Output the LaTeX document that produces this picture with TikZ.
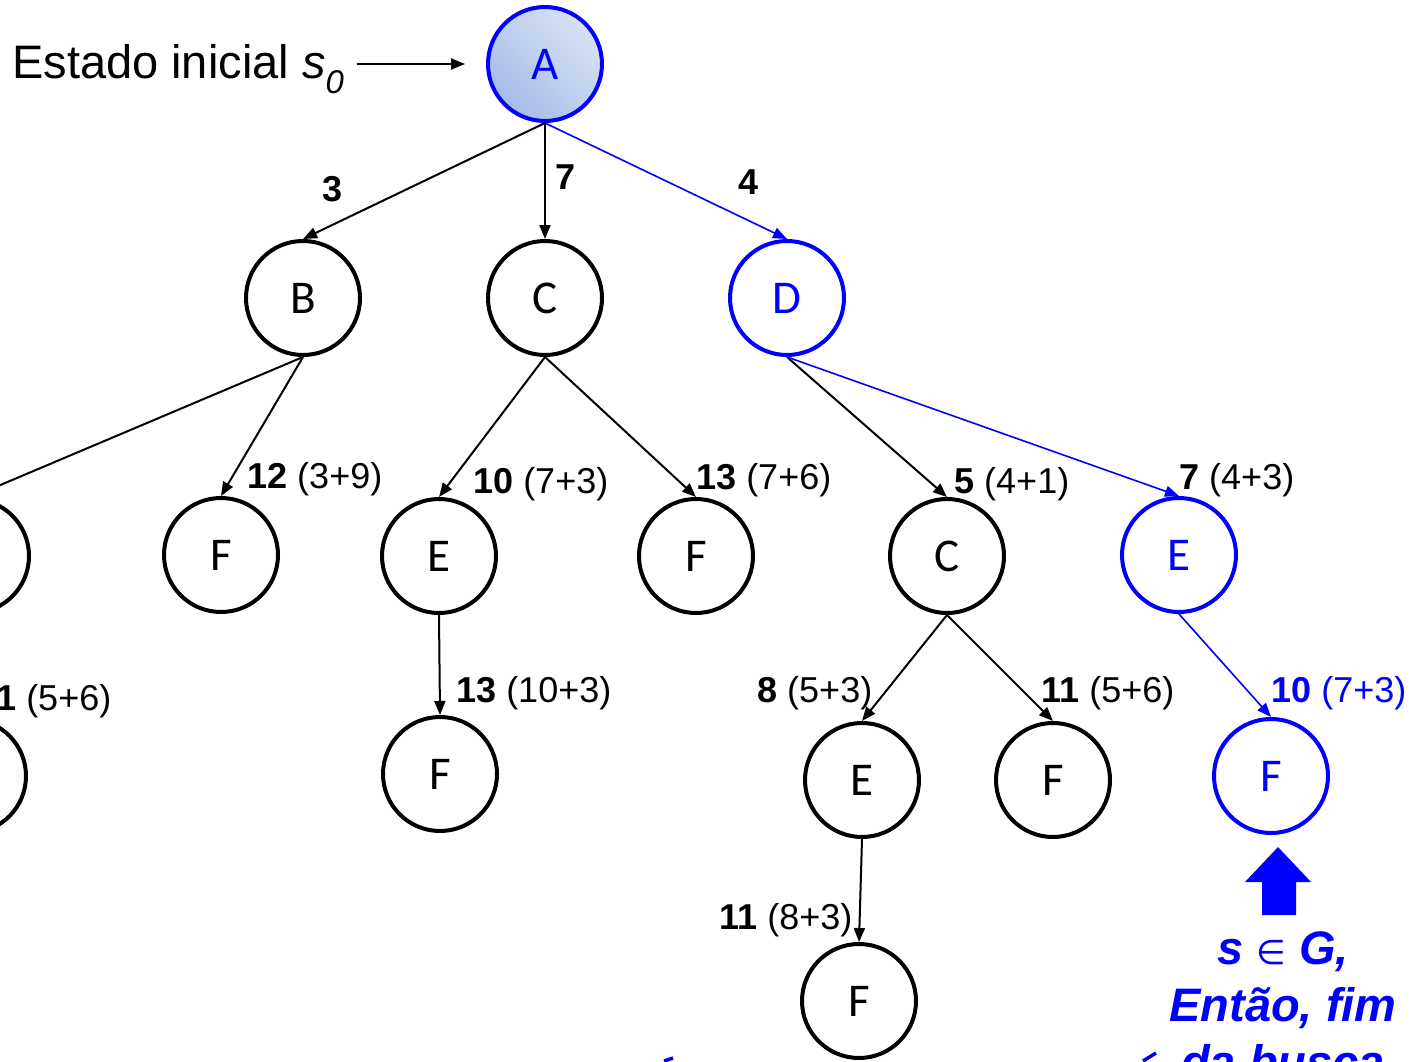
\documentclass[tikz,border=0pt]{standalone}
\usepackage{fontspec}
\setmainfont{Liberation Sans}
\newfontfamily\nodefont{Carlito}
\newfontfamily\symfont{DejaVu Sans}
\usetikzlibrary{arrows.meta}
\definecolor{pureblue}{RGB}{0,0,255}
\definecolor{lightA}{RGB}{216,226,244}
\definecolor{darkA}{RGB}{166,188,232}
\begin{document}
\begin{tikzpicture}[x=1pt,y=-1pt,
  every node/.style={inner sep=0pt},
  state/.style={circle, draw=black, line width=4pt, minimum size=114pt,
    font=\nodefont\fontsize{47}{47}\selectfont},
  goal/.style={state, draw=pureblue, text=pureblue},
  edge/.style={line width=2pt, -{Triangle[length=14pt,width=11pt]}},
  bluedge/.style={edge, draw=pureblue, line width=1.6pt},
  cost/.style={anchor=west, font=\fontsize{36}{36}\selectfont},
  costnum/.style={font=\bfseries\fontsize{36}{36}\selectfont},
  goaltext/.style={text=pureblue, align=center,
    font=\bfseries\itshape\fontsize{47}{57}\selectfont}]
\useasboundingbox (0,0) rectangle (1421,1062);
\clip (0,0) rectangle (1421,1062);

% search tree nodes
\node[goal, top color=lightA, bottom color=darkA, shading angle=-45] (A) at (545,64) {A};
\node[state] (B)  at (303,298) {B};
\node[state] (C1) at (545,298) {C};
\node[goal]  (D)  at (787,298) {D};
\node[state] (X1) at (-28,556) {};
\node[state] (F1) at (221,555) {F};
\node[state] (E1) at (439,556) {E};
\node[state] (F2) at (696,556) {F};
\node[state] (C2) at (947,556) {C};
\node[goal]  (E2) at (1179,555) {E};
\node[state] (X2) at (-31,776) {};
\node[state] (F3) at (440,774) {F};
\node[state] (E3) at (862,780) {E};
\node[state] (F4) at (1053,780) {F};
\node[goal]  (F5) at (1271,776) {F};
\node[state] (F6) at (859,1001) {F};

% initial state marker
\node[anchor=west, font=\fontsize{47}{47}\selectfont] (start) at (12,69)
  {Estado inicial {\itshape s\textsubscript{0}}};
\draw[edge, shorten <=12pt, shorten >=21pt] (start.east |- A.west) -- (A.west);

% expansions
\draw[edge]    (A.south)  -- (B.north);
\draw[edge]    (A.south)  -- (C1.north);
\draw[bluedge] (A.south)  -- (D.north);
\draw[edge]    (B.south)  -- (X1.north);
\draw[edge]    (B.south)  -- (F1.north);
\draw[edge]    (C1.south) -- (E1.north);
\draw[edge]    (C1.south) -- (F2.north);
\draw[edge]    (D.south)  -- (C2.north);
\draw[bluedge] (D.south)  -- (E2.north);
\draw[edge]    (X1.south) -- (X2.north);
\draw[edge]    (E1.south) -- (F3.north);
\draw[edge]    (C2.south) -- (E3.north);
\draw[edge]    (C2.south) -- (F4.north);
\draw[bluedge] (E2.south) -- (F5.north);
\draw[edge]    (E3.south) -- (F6.north);

% path costs
\node[costnum] (c3) at (333,189) {3};
\node[costnum] (c7) at (566,177) {7};
\node[costnum] (c4) at (749,182) {4};
\node[cost] (cF1) at (247,479) {\textbf{12} (3+9)};
\node[cost] (cE1) at (473,484) {\textbf{10} (7+3)};
\node[cost] (cF2) at (696,480) {\textbf{13} (7+6)};
\node[cost] (cC2) at (954,484) {\textbf{5} (4+1)};
\node[cost] (cE2) at (1179,480) {\textbf{7} (4+3)};
\node[cost] (cX2) at (-22,701) {\textbf{11} (5+6)};
\node[cost] (cF3) at (456,693) {\textbf{13} (10+3)};
\node[cost] (cE3) at (757,693) {\textbf{8} (5+3)};
\node[cost] (cF4) at (1041,693) {\textbf{11} (5+6)};
\node[cost, text=pureblue] (cF5) at (1271,693) {\textbf{10} (7+3)};
\node[cost] (cF6) at (719,920) {\textbf{11} (8+3)};

% goal marker
\fill[pureblue] (1245,882) -- (1278,847) -- (1311,882) -- (1296,882)
  -- (1296,915) -- (1262,915) -- (1262,882) -- cycle;
\node[goaltext, anchor=north] (goal) at (1283,931)
  {s {\mdseries\upshape\symfont\fontsize{34}{34}\selectfont ∈} G,\\Então, fim\\da busca};

% glyph tops peeking in at the lower edge
\draw[pureblue, line width=3.5pt] (664,1061) -- (673,1058);
\draw[pureblue, line width=3.5pt] (1143,1061) -- (1156,1053);
\end{tikzpicture}
\end{document}
